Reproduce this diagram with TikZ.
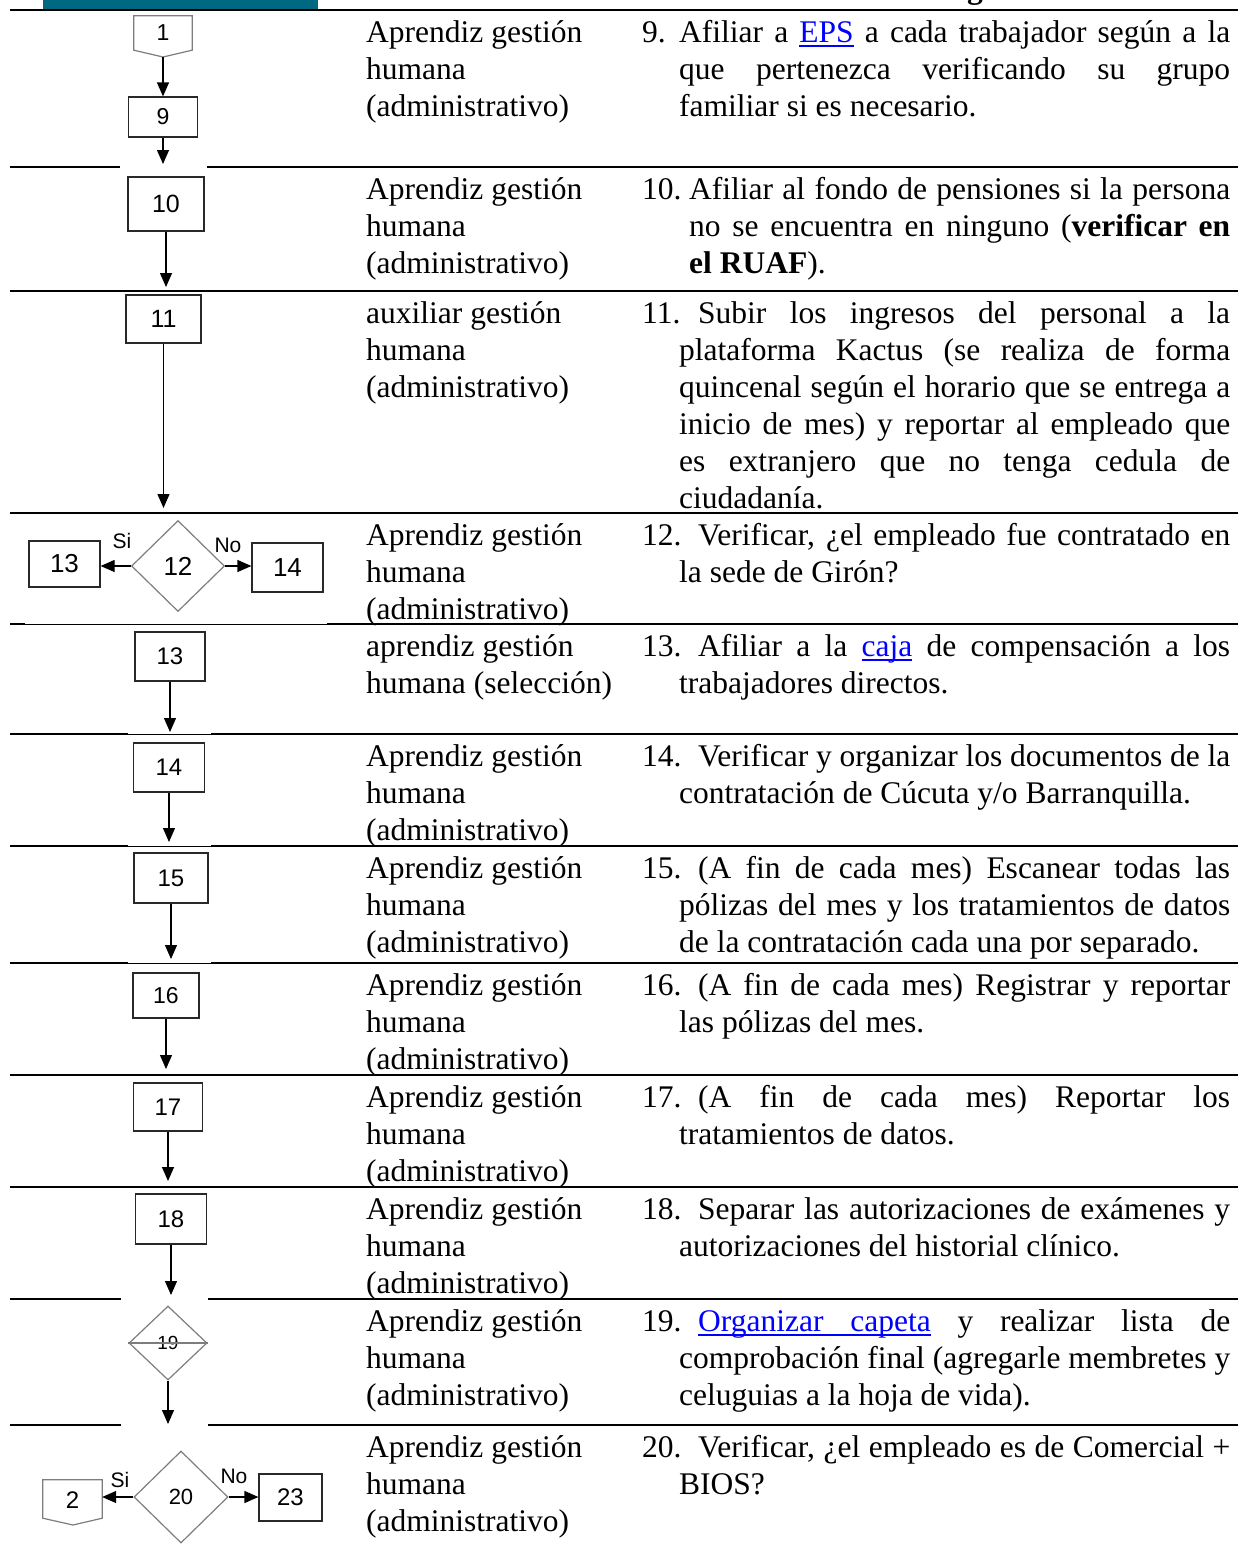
\documentclass[tikz,border=0pt]{standalone}
\usepackage{fontspec}
\setmainfont{Liberation Serif}
\newfontfamily\flowfont{Liberation Sans}
\usetikzlibrary{arrows.meta,shapes.geometric}

\definecolor{bandteal}{RGB}{0,104,128}
\definecolor{linkblue}{RGB}{0,0,255}
\definecolor{boxline}{RGB}{40,40,40}
\definecolor{diamline}{RGB}{125,125,125}

% description lines: first line with item number, justified middle lines, ragged last line
\newcommand\dfirst[3]{\hbox to 588pt{\hbox to #1{#2\hss}#3}}
\newcommand\dmid[2][37pt]{\hbox to 588pt{\hskip#1 #2}}
\newcommand\dend[2][37pt]{\hbox{\hskip#1 #2}}
\newcommand\rline[1]{\hbox{#1}}
\newcommand\colstack[1]{\vtop{\baselineskip=37pt\lineskiplimit=-\maxdimen\lineskip=0pt #1}}
% underlined link words and underlined stretchable space
\newcommand\ulbar{\leaders\hrule height -3pt depth 4.6pt}
\newcommand\ulw[1]{\setbox0\hbox{#1}\rlap{\ulbar\hskip\wd0}\box0}
\newcommand\ulsp{\ulbar\hskip 0.25em plus 0.125em minus 0.083em}
\newcommand\weblink[1]{\textcolor{linkblue}{#1}}
\newcommand\fsz[1]{\flowfont\fontsize{#1}{#1}\selectfont}

\begin{document}
\begin{tikzpicture}[x=1pt,y=-1pt,
  rulethick/.style={line width=2.6pt,black},
  rulethin/.style={line width=1pt,black},
  fbox/.style={draw=boxline,line width=1.2pt,rectangle,inner sep=0pt},
  pent/.style={draw=none,rectangle,inner sep=0pt},
  pentline/.style={draw=diamline,line width=1.2pt,line join=miter},
  decision/.style={draw=diamline,line width=1.2pt,diamond,inner sep=0pt},
  flow/.style={draw=black,line width=1.2pt,-{Triangle[length=14pt,width=12pt]}},
  tag/.style={inner sep=0pt,font=\fsz{21}},
  txt/.style={anchor=base west,inner sep=0pt,font=\fontsize{31.5}{37}\selectfont}
]
\useasboundingbox (0,0) rectangle (1238,1566);

% header remnants
\fill[bandteal] (43,0) rectangle (318,9);
\node[anchor=base,inner sep=0pt,font=\bfseries\fontsize{31.5}{37}\selectfont] (hdrg) at (975,-2) {g};

% row rules
\draw[rulethick] (10,10) -- (1238,10);
\draw[rulethick] (10,167) -- (120,167);
\draw[rulethick] (207,167) -- (1238,167);
\draw[rulethick] (10,291) -- (1238,291);
\draw[rulethick] (10,513) -- (1238,513);
\draw[rulethick] (10,624) -- (25,624);
\draw[rulethin] (25,624) -- (327,624);
\draw[rulethick] (327,624) -- (1238,624);
\foreach \yy in {734,846,963}{
  \draw[rulethick] (10,\yy) -- (128,\yy);
  \draw[rulethin] (128,\yy) -- (211,\yy);
  \draw[rulethick] (211,\yy) -- (1238,\yy);
}
\draw[rulethick] (10,1075) -- (1238,1075);
\draw[rulethick] (10,1187) -- (1238,1187);
\draw[rulethick] (10,1299) -- (121,1299);
\draw[rulethick] (208,1299) -- (1238,1299);
\draw[rulethick] (10,1425) -- (121,1425);
\draw[rulethick] (208,1425) -- (1238,1425);

% ---------- flow column ----------
% off-page connector 1
\node[pent,minimum width=58pt,minimum height=32pt,font=\fsz{23}] (p1) at (163,33) {1};
\coordinate (p1tip) at (163,57);
\draw[pentline] ([yshift=1pt]p1.north west) -- ([yshift=1pt]p1.north east) -- ([yshift=-1pt]p1.south east) -- (p1tip) -- ([yshift=-1pt]p1.south west) -- cycle;

\node[fbox,minimum width=69pt,minimum height=40pt,font=\fsz{23}] (b9) at (163,117) {9};
\draw[flow] (p1tip) -- (b9.north);
\coordinate (e9) at (163,164);
\draw[flow] (b9.south) -- (e9);

\node[fbox,minimum width=76pt,minimum height=54pt,font=\fsz{25}] (b10) at (166,204) {10};
\coordinate (e10) at (166,287);
\draw[flow] (b10.south) -- (e10);

\node[fbox,minimum width=75pt,minimum height=48pt,font=\fsz{25}] (b11) at (163.5,319) {11};
\coordinate (e11) at (163.5,508);
\draw[flow] (b11.south) -- (e11);

% decision 12
\node[decision,minimum width=93pt,minimum height=91pt,font=\fsz{26}] (d12) at (178,566) {12};
\node[fbox,minimum width=71pt,minimum height=46pt,font=\fsz{26}] (b13r) at (64.5,564) {13};
\node[fbox,minimum width=71pt,minimum height=49pt,font=\fsz{26}] (b14r) at (287.5,567.5) {14};
\draw[flow] (d12.west) -- (d12.west -| b13r.east);
\draw[flow] (d12.east) -- (d12.east -| b14r.west);
\node[tag] (si12) at (122,541) {Si};
\node[tag] (no12) at (228,545) {No};

\node[fbox,minimum width=70pt,minimum height=49pt,font=\fsz{24}] (b13) at (170,656.5) {13};
\coordinate (e13) at (170,732);
\draw[flow] (b13.south) -- (e13);

\node[fbox,minimum width=71pt,minimum height=49pt,font=\fsz{24}] (b14) at (169,767.5) {14};
\coordinate (e14) at (169,842);
\draw[flow] (b14.south) -- (e14);

\node[fbox,minimum width=74pt,minimum height=50pt,font=\fsz{24}] (b15) at (171,878) {15};
\coordinate (e15) at (171,959);
\draw[flow] (b15.south) -- (e15);

\node[fbox,minimum width=66pt,minimum height=45pt,font=\fsz{23}] (b16) at (166,995.5) {16};
\coordinate (e16) at (166,1069);
\draw[flow] (b16.south) -- (e16);

\node[fbox,minimum width=69pt,minimum height=48pt,font=\fsz{24}] (b17) at (168,1107) {17};
\coordinate (e17) at (168,1181);
\draw[flow] (b17.south) -- (e17);

\node[fbox,minimum width=71pt,minimum height=50pt,font=\fsz{24}] (b18) at (171,1219) {18};
\coordinate (e18) at (171,1295);
\draw[flow] (b18.south) -- (e18);

% step 19
\node[decision,minimum width=78pt,minimum height=74pt,font=\fsz{19}] (d19) at (168,1343) {19};
\draw[draw=diamline,line width=1.2pt] (d19.west) -- (d19.east);
\coordinate (e19) at (168,1424);
\draw[flow] (d19.south) -- (e19);

% decision 20
\node[decision,minimum width=94pt,minimum height=92pt,font=\fsz{22}] (d20) at (181,1497) {20};
\node[pent,minimum width=59pt,minimum height=34pt,font=\fsz{24}] (p2) at (72.5,1500) {2};
\coordinate (p2tip) at (73,1525);
\draw[pentline] ([yshift=3pt]p2.north west) -- ([yshift=3pt]p2.north east) -- ([yshift=-1pt]p2.south east) -- (p2tip) -- ([yshift=-1pt]p2.south west) -- cycle;
\node[fbox,minimum width=63pt,minimum height=47pt,font=\fsz{24}] (b23) at (290.5,1497.5) {23};
\draw[flow] (d20.west) -- (d20.west -| p2.east);
\draw[flow] (d20.east) -- (d20.east -| b23.west);
\node[tag] (si20) at (120,1480) {Si};
\node[tag] (no20) at (234,1476) {No};

% ---------- responsible column ----------
\node[txt] (r9) at (366,42) {\colstack{\rline{Aprendiz gestión}\rline{humana}\rline{(administrativo)}}};
\node[txt] (r10) at (366,199) {\colstack{\rline{Aprendiz gestión}\rline{humana}\rline{(administrativo)}}};
\node[txt] (r11) at (366,323) {\colstack{\rline{auxiliar gestión}\rline{humana}\rline{(administrativo)}}};
\node[txt] (r12) at (366,545) {\colstack{\rline{Aprendiz gestión}\rline{humana}\rline{(administrativo)}}};
\node[txt] (r13) at (366,656) {\colstack{\rline{aprendiz gestión}\rline{humana (selección)}}};
\node[txt] (r14) at (366,766) {\colstack{\rline{Aprendiz gestión}\rline{humana}\rline{(administrativo)}}};
\node[txt] (r15) at (366,878) {\colstack{\rline{Aprendiz gestión}\rline{humana}\rline{(administrativo)}}};
\node[txt] (r16) at (366,995) {\colstack{\rline{Aprendiz gestión}\rline{humana}\rline{(administrativo)}}};
\node[txt] (r17) at (366,1107) {\colstack{\rline{Aprendiz gestión}\rline{humana}\rline{(administrativo)}}};
\node[txt] (r18) at (366,1219) {\colstack{\rline{Aprendiz gestión}\rline{humana}\rline{(administrativo)}}};
\node[txt] (r19) at (366,1331) {\colstack{\rline{Aprendiz gestión}\rline{humana}\rline{(administrativo)}}};
\node[txt] (r20) at (366,1457) {\colstack{\rline{Aprendiz gestión}\rline{humana}\rline{(administrativo)}}};

% ---------- description column ----------
\node[txt] (t9) at (642,42) {\colstack{%
  \dfirst{37pt}{9.}{Afiliar a \weblink{\ulw{EPS}} a cada trabajador según a la}%
  \dmid{que pertenezca verificando su grupo}%
  \dend{familiar si es necesario.}}};
\node[txt] (t10) at (642,199) {\colstack{%
  \dfirst{47pt}{10.}{Afiliar al fondo de pensiones si la persona}%
  \dmid[47pt]{no se encuentra en ninguno (\textbf{verificar en}}%
  \dend[47pt]{\textbf{el RUAF}).}}};
\node[txt] (t11) at (642,323) {\colstack{%
  \dfirst{56pt}{11.}{Subir los ingresos del personal a la}%
  \dmid{plataforma Kactus (se realiza de forma}%
  \dmid{quincenal según el horario que se entrega a}%
  \dmid{inicio de mes) y reportar al empleado que}%
  \dmid{es extranjero que no tenga cedula de}%
  \dend{ciudadanía.}}};
\node[txt] (t12) at (642,545) {\colstack{%
  \dfirst{56pt}{12.}{Verificar, ¿el empleado fue contratado en}%
  \dend{la sede de Girón?}}};
\node[txt] (t13) at (642,656) {\colstack{%
  \dfirst{56pt}{13.}{Afiliar a la \weblink{\ulw{caja}} de compensación a los}%
  \dend{trabajadores directos.}}};
\node[txt] (t14) at (642,766) {\colstack{%
  \dfirst{56pt}{14.}{Verificar y organizar los documentos de la}%
  \dend{contratación de Cúcuta y/o Barranquilla.}}};
\node[txt] (t15) at (642,878) {\colstack{%
  \dfirst{56pt}{15.}{(A fin de cada mes) Escanear todas las}%
  \dmid{pólizas del mes y los tratamientos de datos}%
  \dend{de la contratación cada una por separado.}}};
\node[txt] (t16) at (642,995) {\colstack{%
  \dfirst{56pt}{16.}{(A fin de cada mes) Registrar y reportar}%
  \dend{las pólizas del mes.}}};
\node[txt] (t17) at (642,1107) {\colstack{%
  \dfirst{56pt}{17.}{(A fin de cada mes) Reportar los}%
  \dend{tratamientos de datos.}}};
\node[txt] (t18) at (642,1219) {\colstack{%
  \dfirst{56pt}{18.}{Separar las autorizaciones de exámenes y}%
  \dend{autorizaciones del historial clínico.}}};
\node[txt] (t19) at (642,1331) {\colstack{%
  \dfirst{56pt}{19.}{\weblink{\ulw{Organizar}\ulsp\ulw{capeta}} y realizar lista de}%
  \dmid{comprobación final (agregarle membretes y}%
  \dend{celuguias a la hoja de vida).}}};
\node[txt] (t20) at (642,1457) {\colstack{%
  \dfirst{56pt}{20.}{Verificar, ¿el empleado es de Comercial +}%
  \dend{BIOS?}}};
\end{tikzpicture}
\end{document}
